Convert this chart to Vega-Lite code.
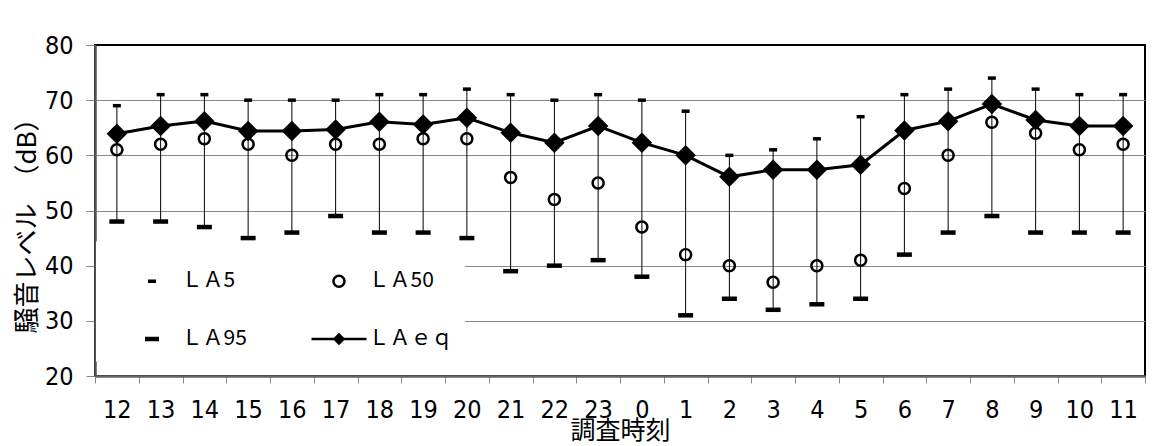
{
  "$schema": "https://vega.github.io/schema/vega-lite/v6.json",
  "width": 1050,
  "height": 331,
  "autosize": {"type": "none"},
  "padding": {"left": 95, "top": 45, "right": 11, "bottom": 70},
  "background": "white",
  "config": {
    "view": {"stroke": "black", "strokeWidth": 2}
  },
  "data": {
    "values": [
      {"hour": "12", "LA5": 69, "LA50": 61, "LA95": 48, "LAeq": 63.9},
      {"hour": "13", "LA5": 71, "LA50": 62, "LA95": 48, "LAeq": 65.3},
      {"hour": "14", "LA5": 71, "LA50": 63, "LA95": 47, "LAeq": 66.2},
      {"hour": "15", "LA5": 70, "LA50": 62, "LA95": 45, "LAeq": 64.4},
      {"hour": "16", "LA5": 70, "LA50": 60, "LA95": 46, "LAeq": 64.4},
      {"hour": "17", "LA5": 70, "LA50": 62, "LA95": 49, "LAeq": 64.7},
      {"hour": "18", "LA5": 71, "LA50": 62, "LA95": 46, "LAeq": 66.1},
      {"hour": "19", "LA5": 71, "LA50": 63, "LA95": 46, "LAeq": 65.6},
      {"hour": "20", "LA5": 72, "LA50": 63, "LA95": 45, "LAeq": 66.8},
      {"hour": "21", "LA5": 71, "LA50": 56, "LA95": 39, "LAeq": 64.1},
      {"hour": "22", "LA5": 70, "LA50": 52, "LA95": 40, "LAeq": 62.3},
      {"hour": "23", "LA5": 71, "LA50": 55, "LA95": 41, "LAeq": 65.3},
      {"hour": "0", "LA5": 70, "LA50": 47, "LA95": 38, "LAeq": 62.3},
      {"hour": "1", "LA5": 68, "LA50": 42, "LA95": 31, "LAeq": 60.0},
      {"hour": "2", "LA5": 60, "LA50": 40, "LA95": 34, "LAeq": 56.1},
      {"hour": "3", "LA5": 61, "LA50": 37, "LA95": 32, "LAeq": 57.4},
      {"hour": "4", "LA5": 63, "LA50": 40, "LA95": 33, "LAeq": 57.4},
      {"hour": "5", "LA5": 67, "LA50": 41, "LA95": 34, "LAeq": 58.3},
      {"hour": "6", "LA5": 71, "LA50": 54, "LA95": 42, "LAeq": 64.5},
      {"hour": "7", "LA5": 72, "LA50": 60, "LA95": 46, "LAeq": 66.2},
      {"hour": "8", "LA5": 74, "LA50": 66, "LA95": 49, "LAeq": 69.3},
      {"hour": "9", "LA5": 72, "LA50": 64, "LA95": 46, "LAeq": 66.4},
      {"hour": "10", "LA5": 71, "LA50": 61, "LA95": 46, "LAeq": 65.3},
      {"hour": "11", "LA5": 71, "LA50": 62, "LA95": 46, "LAeq": 65.3}
    ]
  },
  "encoding": {
    "x": {
      "field": "hour",
      "type": "nominal",
      "scale": {
        "domain": ["12","13","14","15","16","17","18","19","20","21","22","23","0","1","2","3","4","5","6","7","8","9","10","11"],
        "paddingInner": 0,
        "paddingOuter": 0
      },
      "axis": {
        "title": "調査時刻",
        "labelAngle": 0,
        "tickBand": "extent",
        "tickSize": 7,
        "tickColor": "#888888",
        "tickWidth": 1,
        "domainColor": "#666666",
        "domainWidth": 2.5,
        "grid": false,
        "labelFont": "DejaVu Sans Condensed, sans-serif",
        "labelFontSize": 25,
        "labelColor": "black",
        "labelPadding": 14,
        "titleFont": "Noto Sans CJK JP",
        "titleFontSize": 25,
        "titleFontWeight": "normal",
        "titleColor": "black",
        "titleY": 42
      }
    }
  },
  "layer": [
    {
      "mark": {"type": "rule", "color": "black", "strokeWidth": 1},
      "encoding": {
        "y": {
          "field": "LA5",
          "type": "quantitative",
          "scale": {"domain": [20, 80], "nice": false, "zero": false},
          "axis": {
            "title": "騒音レベル　（dB）",
            "values": [20, 30, 40, 50, 60, 70, 80],
            "grid": true,
            "gridColor": "#888888",
            "gridWidth": 1,
            "gridOpacity": {"condition": {"test": "datum.value === 20 || datum.value === 80", "value": 0}, "value": 1},
            "tickSize": 9,
            "tickColor": "#888888",
            "tickWidth": 1,
            "domainColor": "#555555",
            "domainWidth": 2.5,
            "labelFont": "DejaVu Sans Condensed, sans-serif",
            "labelFontSize": 25,
            "labelColor": "black",
            "labelPadding": 13,
            "titleFont": "Noto Sans CJK JP",
            "titleFontSize": 26,
            "titleFontWeight": "normal",
            "titleColor": "black",
            "titleX": -55,
            "titleY": 174
          }
        },
        "y2": {"field": "LA95"}
      }
    },
    {
      "mark": {"type": "tick", "color": "black", "size": 8, "thickness": 3.5, "opacity": 1},
      "encoding": {"y": {"field": "LA5", "type": "quantitative"}}
    },
    {
      "mark": {"type": "tick", "color": "black", "size": 15, "thickness": 4.5, "opacity": 1},
      "encoding": {"y": {"field": "LA95", "type": "quantitative"}}
    },
    {
      "mark": {"type": "point", "filled": true, "color": "black", "strokeWidth": 0, "size": 3025, "opacity": 1},
      "encoding": {
        "y": {"field": "LA50", "type": "quantitative"},
        "shape": {
          "datum": "ＬＡ50",
          "type": "nominal",
          "scale": {
            "domain": ["ＬＡ5", "ＬＡ95", "ＬＡ50", "ＬＡｅｑ"],
            "range": [
              "M-0.145,-0.064H0.145V0.064H-0.145Z",
              "M-0.255,-0.082H0.255V0.082H-0.255Z",
              "M0.245,0A0.245,0.245,0,1,1,-0.245,0A0.245,0.245,0,1,1,0.245,0ZM0.155,0A0.155,0.155,0,1,0,-0.155,0A0.155,0.155,0,1,0,0.155,0Z",
              "M-1,-0.045H1V0.045H-1ZM0,-0.23L0.23,0L0,0.23L-0.23,0Z"
            ]
          },
          "legend": {
            "orient": "none",
            "legendX": 1,
            "legendY": 196.5,
            "columns": 2,
            "title": null,
            "padding": 12,
            "fillColor": "white",
            "symbolSize": 3025,
            "symbolStrokeWidth": 0,
            "symbolFillColor": "black",
            "symbolOpacity": 1,
            "symbolOffset": 16.5,
            "labelFont": "Noto Sans CJK JP",
            "labelFontSize": 21,
            "labelColor": "black",
            "labelOffset": 2,
            "columnPadding": 48,
            "rowPadding": 20
          }
        }
      }
    },
    {
      "mark": {
        "type": "line",
        "color": "black",
        "strokeWidth": 3,
        "point": {"shape": "diamond", "size": 420, "filled": true, "color": "black", "opacity": 1}
      },
      "encoding": {"y": {"field": "LAeq", "type": "quantitative"}}
    }
  ]
}
